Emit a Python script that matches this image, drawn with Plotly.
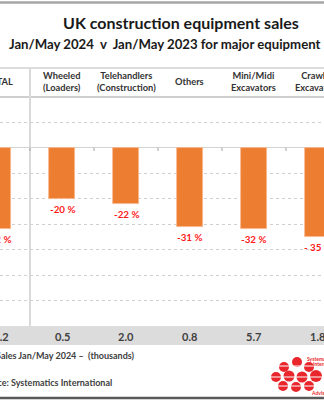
import plotly.graph_objects as go

# Equipment categories and Jan-May 2024 vs Jan-May 2023 change (%)
categories = ["TOTAL", "Wheeled<br>(Loaders)", "Telehandlers<br>(Construction)",
              "Others", "Mini/Midi<br>Excavators", "Crawler<br>Excavators"]
pct_change = [-32, -20, -22, -31, -32, -35]
pct_labels = ["-32 %", "-20 %", "-22 %", "-31 %", "-32 %", "- 35 %"]
# Sales Jan/May 2024 (thousands)
sales_2024 = ["11.2", "0.5", "2.0", "0.8", "5.7", "1.8"]

W, H = 324, 400
FONT = "Lato"
DARK = "#404040"
ORANGE = "#ED7D31"
X_RANGE = [0.031, 5.094]

x_idx = list(range(len(categories)))


def cat_to_paper(i):
    # linear x-axis scale expressed in paper units (axis spans the full width)
    return (i - X_RANGE[0]) / (X_RANGE[1] - X_RANGE[0])


def py(px):
    return 1 - px / H


def pxx(px):
    return px / W


fig = go.Figure()
fig.add_trace(go.Bar(
    x=x_idx, y=pct_change, width=0.41,
    marker=dict(color=ORANGE, line=dict(color="#f6b98f", width=0.8)),
    hoverinfo="skip",
))

y_top, y_bot = 97, 326
fig.update_layout(
    width=W, height=H, margin=dict(l=0, r=0, t=0, b=0),
    paper_bgcolor="white", plot_bgcolor="white", showlegend=False,
    bargap=0,
    xaxis=dict(range=X_RANGE, showgrid=False, showticklabels=False,
               zeroline=False, domain=[0, 1], fixedrange=True),
    yaxis=dict(range=[-70, 20], dtick=10, showticklabels=False,
               gridcolor="#cfcfcf", griddash="dot", gridwidth=1,
               zeroline=True, zerolinecolor="#d4d4d4", zerolinewidth=1,
               domain=[py(y_bot), py(y_top)], fixedrange=True),
)

shapes = []
# frame lines
shapes.append(dict(type="line", xref="paper", yref="paper", x0=0, x1=1,
                   y0=py(2.5), y1=py(2.5), line=dict(color="#a6a6a6", width=2.5)))
shapes.append(dict(type="line", xref="paper", yref="paper", x0=0, x1=1,
                   y0=py(68), y1=py(68), line=dict(color="#d0d0d0", width=1.5)))
shapes.append(dict(type="line", xref="paper", yref="paper", x0=0, x1=1,
                   y0=py(97), y1=py(97), line=dict(color="#bfbfbf", width=1.5)))
# sales band
shapes.append(dict(type="rect", xref="paper", yref="paper", x0=0, x1=1,
                   y0=py(345), y1=py(326), fillcolor="#dcdcdc", line=dict(width=0),
                   layer="below"))
# column separator after TOTAL
shapes.append(dict(type="line", xref="x", yref="paper", x0=0.5, x1=0.5,
                   y0=py(326), y1=py(68), line=dict(color="#d9d9d9", width=2)))
# small ticks on the zero line between categories
for i in x_idx[:-1]:
    shapes.append(dict(type="line", xref="x", yref="y", x0=i + 0.5, x1=i + 0.5,
                       y0=0, y1=-1.2, line=dict(color="#a0a0a0", width=1)))
# bottom rule
shapes.append(dict(type="line", xref="paper", yref="paper", x0=0, x1=1,
                   y0=py(398), y1=py(398), line=dict(color="#595959", width=2.5)))

# logo: cluster of red discs with white bands
logo = [(284, 367, 5), (297, 362, 5), (309, 367, 5),
        (276, 377, 5), (289, 376, 5.5), (302, 377, 5.5), (316, 376, 6),
        (283, 386, 5), (296, 387, 5), (309, 386, 5)]
for cx, cy, r in logo:
    shapes.append(dict(type="circle", xref="paper", yref="paper",
                       x0=pxx(cx - r), x1=pxx(cx + r), y0=py(cy + r), y1=py(cy - r),
                       fillcolor="#e8262c", line=dict(width=0)))
for ly in (366, 377, 386):
    shapes.append(dict(type="line", xref="paper", yref="paper", x0=pxx(270), x1=pxx(324),
                       y0=py(ly), y1=py(ly), line=dict(color="white", width=1)))
fig.update_layout(shapes=shapes)

ann = []
ann.append(dict(text="UK construction equipment sales", xref="paper", yref="paper",
                x=pxx(181), y=py(22), xanchor="center", yanchor="middle", showarrow=False,
                font=dict(family=FONT, size=16, color="#1a1a1a", weight="bold")))
ann.append(dict(text="Jan/May 2024  v  Jan/May 2023 for major equipment", xref="paper",
                yref="paper", x=pxx(7), y=py(44), xanchor="left", yanchor="middle",
                showarrow=False,
                font=dict(family=FONT, size=13.2, color="#1a1a1a", weight="bold")))
for i, c in enumerate(categories):
    xp = cat_to_paper(i)
    # column header
    ann.append(dict(text=c, xref="paper", yref="paper", x=xp, y=py(82), xanchor="center",
                    yanchor="middle", showarrow=False,
                    font=dict(family=FONT, size=9.3, color="#333333", weight="bold")))
    # sales figure in the grey band
    ann.append(dict(text=sales_2024[i], xref="paper", yref="paper", x=xp, y=py(336),
                    xanchor="center", yanchor="middle", showarrow=False,
                    font=dict(family=FONT, size=11, color=DARK, weight="bold")))
    # percentage change under each bar
    ann.append(dict(text=pct_labels[i], xref="paper", yref="y", x=xp, y=pct_change[i],
                    xanchor="center", yanchor="top", yshift=-2, showarrow=False,
                    font=dict(family=FONT, size=9.8, color="#ff1a1a", weight="bold")))
ann.append(dict(text="Sales Jan/May 2024 \u2013  (thousands)", xref="paper", yref="paper",
                x=pxx(-6), y=py(355), xanchor="left", yanchor="middle", showarrow=False,
                font=dict(family=FONT, size=9, color=DARK, weight="bold")))
ann.append(dict(text="Source: Systematics International", xref="paper", yref="paper",
                x=pxx(-23), y=py(382), xanchor="left", yanchor="middle", showarrow=False,
                font=dict(family=FONT, size=9, color=DARK, weight="bold")))
for t, lx, ly in (("Systematics", 305, 359), ("International", 311, 364), ("Advisory", 309, 393)):
    ann.append(dict(text=t, xref="paper", yref="paper", x=pxx(lx), y=py(ly),
                    xanchor="left", yanchor="middle", showarrow=False,
                    font=dict(family=FONT, size=5, color="#e8262c", weight="bold")))
fig.update_layout(annotations=ann)

fig.write_html("out.html")
